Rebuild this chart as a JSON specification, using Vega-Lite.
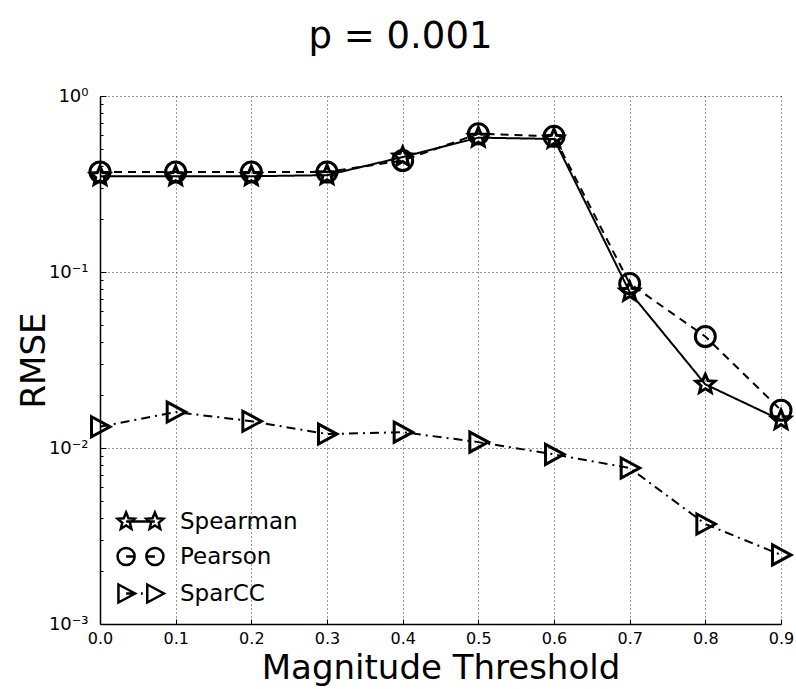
{
  "$schema": "https://vega.github.io/schema/vega-lite/v6.json",
  "autosize": {"type": "none"},
  "padding": {"left": 100, "top": 96, "right": 15, "bottom": 65},
  "width": 681,
  "height": 528,
  "background": "white",
  "title": {
    "text": "p = 0.001",
    "font": "DejaVu Sans",
    "fontSize": 37,
    "fontWeight": "normal",
    "color": "black",
    "anchor": "middle",
    "dx": -40,
    "offset": 2,
    "baseline": "alphabetic"
  },
  "data": {
    "values": [
      {"t": 0.0, "series": "Spearman", "rmse": 0.35},
      {"t": 0.1, "series": "Spearman", "rmse": 0.35},
      {"t": 0.2, "series": "Spearman", "rmse": 0.35},
      {"t": 0.3, "series": "Spearman", "rmse": 0.355},
      {"t": 0.4, "series": "Spearman", "rmse": 0.45},
      {"t": 0.5, "series": "Spearman", "rmse": 0.58},
      {"t": 0.6, "series": "Spearman", "rmse": 0.57},
      {"t": 0.7, "series": "Spearman", "rmse": 0.077},
      {"t": 0.8, "series": "Spearman", "rmse": 0.023},
      {"t": 0.9, "series": "Spearman", "rmse": 0.0144},
      {"t": 0.0, "series": "Pearson", "rmse": 0.37},
      {"t": 0.1, "series": "Pearson", "rmse": 0.37},
      {"t": 0.2, "series": "Pearson", "rmse": 0.37},
      {"t": 0.3, "series": "Pearson", "rmse": 0.37},
      {"t": 0.4, "series": "Pearson", "rmse": 0.43},
      {"t": 0.5, "series": "Pearson", "rmse": 0.61},
      {"t": 0.6, "series": "Pearson", "rmse": 0.59},
      {"t": 0.7, "series": "Pearson", "rmse": 0.086},
      {"t": 0.8, "series": "Pearson", "rmse": 0.043},
      {"t": 0.9, "series": "Pearson", "rmse": 0.0164},
      {"t": 0.0, "series": "SparCC", "rmse": 0.0132},
      {"t": 0.1, "series": "SparCC", "rmse": 0.016},
      {"t": 0.2, "series": "SparCC", "rmse": 0.0142},
      {"t": 0.3, "series": "SparCC", "rmse": 0.012},
      {"t": 0.4, "series": "SparCC", "rmse": 0.0123},
      {"t": 0.5, "series": "SparCC", "rmse": 0.0108},
      {"t": 0.6, "series": "SparCC", "rmse": 0.0092},
      {"t": 0.7, "series": "SparCC", "rmse": 0.0077},
      {"t": 0.8, "series": "SparCC", "rmse": 0.0037},
      {"t": 0.9, "series": "SparCC", "rmse": 0.00247}
    ]
  },
  "encoding": {
    "x": {
      "field": "t",
      "type": "quantitative",
      "scale": {"domain": [0, 0.9], "nice": false, "zero": false},
      "axis": {
        "values": [0, 0.1, 0.2, 0.3, 0.4, 0.5, 0.6, 0.7, 0.8, 0.9],
        "format": ".1f",
        "title": "Magnitude Threshold",
        "titleFont": "DejaVu Sans",
        "titleFontSize": 34,
        "titleFontWeight": "normal",
        "titleColor": "black",
        "titleBaseline": "alphabetic",
        "titleY": 54,
        "labelFont": "DejaVu Sans",
        "labelFontSize": 16,
        "labelColor": "black",
        "labelFlush": false,
        "labelOverlap": false,
        "tickSize": -5,
        "labelPadding": 11,
        "tickColor": "black",
        "tickWidth": 1,
        "domainColor": "black",
        "domainWidth": 1.5,
        "grid": true,
        "gridColor": "#333333",
        "gridDash": [1, 3],
        "gridWidth": 1
      }
    },
    "y": {
      "field": "rmse",
      "type": "quantitative",
      "scale": {"type": "log", "domain": [0.001, 1], "nice": false},
      "axis": {
        "values": [0.001, 0.002, 0.003, 0.004, 0.005, 0.006, 0.007, 0.008, 0.009, 0.01, 0.02, 0.03, 0.04, 0.05, 0.06, 0.07, 0.08, 0.09, 0.1, 0.2, 0.3, 0.4, 0.5, 0.6, 0.7, 0.8, 0.9, 1],
        "labelExpr": "datum.value == 1 ? '10⁰' : datum.value == 0.1 ? '10⁻¹' : datum.value == 0.01 ? '10⁻²' : datum.value == 0.001 ? '10⁻³' : ''",
        "title": "RMSE",
        "titleFont": "DejaVu Sans",
        "titleFontSize": 34,
        "titleFontWeight": "normal",
        "titleColor": "black",
        "titleBaseline": "alphabetic",
        "titleX": -56,
        "labelFont": "DejaVu Sans",
        "labelFontSize": 18,
        "labelColor": "black",
        "labelFlush": false,
        "labelOverlap": false,
        "tickSize": {"condition": {"test": "datum.value == 1 || datum.value == 0.1 || datum.value == 0.01 || datum.value == 0.001", "value": -6}, "value": -3},
        "labelPadding": 18,
        "tickColor": "black",
        "tickWidth": 1,
        "domainColor": "black",
        "domainWidth": 1.5,
        "grid": true,
        "gridColor": "#333333",
        "gridDash": [1, 3],
        "gridWidth": 1,
        "gridOpacity": {"condition": {"test": "datum.value == 1 || datum.value == 0.1 || datum.value == 0.01 || datum.value == 0.001", "value": 1}, "value": 0}
      }
    }
  },
  "layer": [
    {
      "mark": {"type": "line", "color": "black", "strokeWidth": 2},
      "encoding": {
        "detail": {"field": "series"},
        "strokeDash": {
          "field": "series",
          "type": "nominal",
          "scale": {"domain": ["Spearman", "Pearson", "SparCC"], "range": [[1, 0], [8, 6], [9, 5, 2, 5]]},
          "legend": null
        }
      }
    },
    {
      "mark": {"type": "point", "filled": false, "color": "black", "strokeWidth": 3, "size": 400, "opacity": 1},
      "encoding": {
        "shape": {
          "field": "series",
          "type": "nominal",
          "scale": {
            "domain": ["Spearman", "Pearson", "SparCC"],
            "range": [
              "M0,-1L0.265,-0.364L0.951,-0.309L0.428,0.139L0.588,0.809L0,0.45L-0.588,0.809L-0.428,0.139L-0.951,-0.309L-0.265,-0.364Z",
              "M-1,0A1,1 0 1,0 1,0A1,1 0 1,0 -1,0Z",
              "M-0.85,-1L1,0L-0.85,1Z"
            ]
          },
          "legend": null
        }
      }
    },
    {
      "transform": [{"filter": "false"}],
      "mark": {"type": "point", "filled": false, "color": "black", "strokeWidth": 2.5, "size": 324, "opacity": 1},
      "encoding": {
        "shape": {
          "field": "series",
          "type": "nominal",
          "scale": {
            "domain": ["Spearman", "Pearson", "SparCC"],
            "range": [
              "M-1.6,-1L-1.335,-0.364L-0.649,-0.309L-1.172,0.139L-1.012,0.809L-1.6,0.45L-2.188,0.809L-2.028,0.139L-2.551,-0.309L-1.865,-0.364ZM1.6,-1L1.865,-0.364L2.551,-0.309L2.028,0.139L2.188,0.809L1.6,0.45L1.012,0.809L1.172,0.139L0.649,-0.309L1.335,-0.364ZM-1.6,0L1.6,0",
              "M-2.55,0A0.95,0.95 0 1,0 -0.65,0A0.95,0.95 0 1,0 -2.55,0ZM0.65,0A0.95,0.95 0 1,0 2.55,0A0.95,0.95 0 1,0 0.65,0ZM-1.6,0L-0.65,0M0.65,0L1.6,0",
              "M-2.45,-1L-0.6,0L-2.45,1ZM0.75,-1L2.6,0L0.75,1ZM-1.6,0L-0.6,0M0.05,0L0.25,0"
            ]
          },
          "legend": {
            "title": null,
            "orient": "none",
            "legendX": 29,
            "legendY": 414,
            "padding": 0,
            "labelFont": "DejaVu Sans",
            "labelFontSize": 23,
            "labelColor": "black",
            "labelOffset": 28,
            "rowPadding": 8,
            "symbolSize": 324,
            "symbolStrokeColor": "black",
            "symbolStrokeWidth": 2.5,
            "symbolFillColor": "transparent",
            "symbolOpacity": 1
          }
        }
      }
    }
  ],
  "resolve": {"scale": {"shape": "independent"}},
  "config": {
    "view": {"stroke": null}
  }
}
